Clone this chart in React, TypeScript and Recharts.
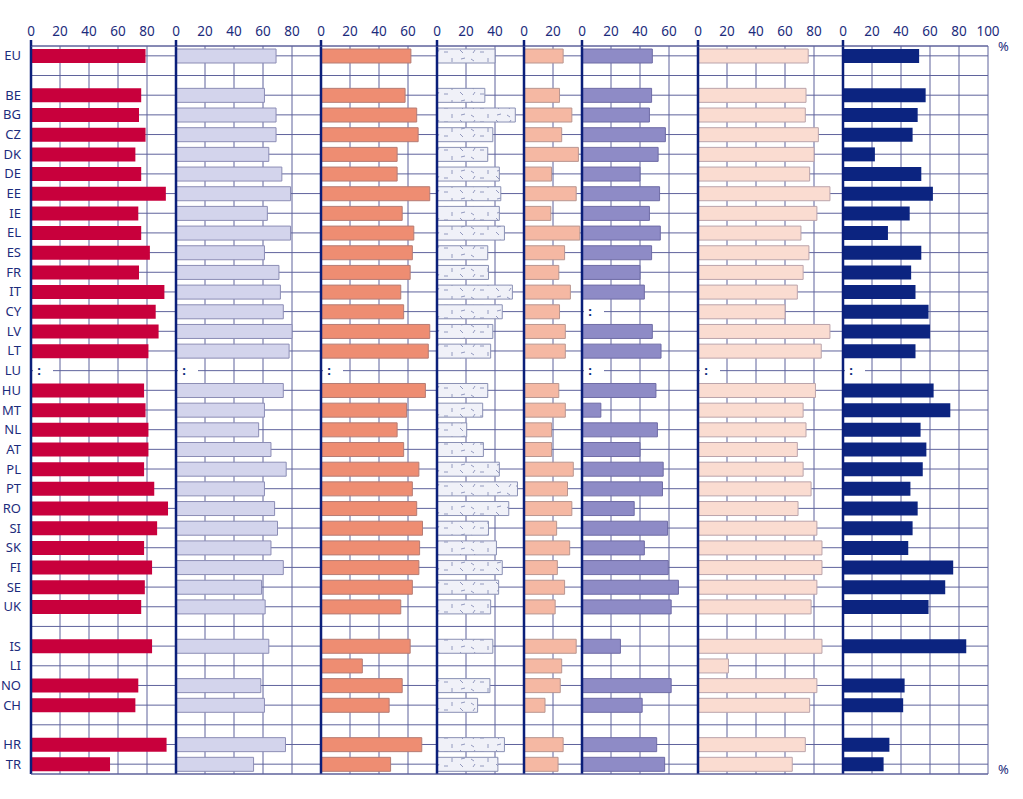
import React from 'react';
import { BarChart, Bar, XAxis, YAxis, CartesianGrid, ReferenceLine, LabelList } from 'recharts';

type V = number | ':' | null;

// Row labels (blank strings are spacer rows)
const countries: string[] = [
  'EU', ' ', 'BE', 'BG', 'CZ', 'DK', 'DE', 'EE', 'IE', 'EL', 'ES', 'FR', 'IT', 'CY', 'LV', 'LT', 'LU',
  'HU', 'MT', 'NL', 'AT', 'PL', 'PT', 'RO', 'SI', 'SK', 'FI', 'SE', 'UK', '  ', 'IS', 'LI', 'NO', 'CH',
  '   ', 'HR', 'TR',
];

// Eight indicator series (":" = not available, null = no bar)
const series1: V[] = [79, null, 76, 74.5, 79, 72, 76, 93, 74, 76, 82, 74.5, 92, 86, 88, 81, ':',
  78, 79, 81, 81, 78, 85, 94.5, 87, 78, 83.5, 78.5, 76, null, 83.5, null, 74, 72, null, 93.5, 54.5];
const series2: V[] = [69, null, 61, 69, 69, 64, 73, 79, 63, 79, 61, 71, 72, 74, 80, 78, ':',
  74, 61, 57, 65.5, 76, 61, 68, 70, 65.5, 74, 59, 61.5, null, 64, null, 58.5, 61, null, 75.5, 53.5];
const series3: V[] = [62, null, 58, 66, 67, 52.5, 52.5, 75, 56, 64, 63, 61.5, 55, 57, 75, 74, ':',
  72, 59, 52.5, 57, 67.5, 63, 66, 70, 68, 67.5, 63, 55, null, 61.5, 28.5, 56, 47, null, 69.5, 48];
const series4: V[] = [40, null, 33, 54, 38.5, 35, 43, 44, 43, 46.5, 35, 35.5, 52, 45, 38.5, 37, null,
  35, 31.5, 20.5, 32, 43, 55.5, 49.5, 35.5, 41, 45, 42.5, 37, null, 38.5, null, 36.5, 28, null, 46.5, 42];
const series5: V[] = [27, null, 24.5, 33, 26, 37.5, 19, 36, 18.5, 38.5, 28, 24, 32, 24.5, 28.5, 28.5, null,
  24, 28.5, 19, 19, 34, 30, 33, 22.5, 31.5, 23, 28, 21.5, null, 36, 26, 25, 14.5, null, 27, 23.5];
const series6: V[] = [48.5, null, 48, 46.5, 57.5, 52.5, 40, 53.5, 46.5, 54, 48, 40, 43, ':', 48.5, 54.5, ':',
  51, 13, 52, 40, 56, 55.5, 36, 59, 43, 59.5, 66.5, 61.5, null, 26.5, null, 61.5, 41.5, null, 51.5, 57];
const series7: V[] = [76, null, 74.5, 74, 83, 80, 77, 91, 82, 71, 76.5, 72.5, 68.5, 60, 91, 85, ':',
  81, 72.5, 74.5, 68.5, 72.5, 78, 69, 82, 85.5, 85.5, 82, 78, null, 85.5, 21, 82, 77, null, 74, 65];
const series8: V[] = [52.5, null, 57, 51.5, 48, 22, 54, 62, 46, 31, 54, 47, 50, 59, 60, 50, ':',
  62.5, 74, 53.5, 57.5, 55, 46.5, 51.5, 48, 45, 76, 70.5, 59, null, 85, null, 42.5, 41.5, null, 32, 28];

const allSeries: V[][] = [series1, series2, series3, series4, series5, series6, series7, series8];
// Axis range of each panel
const panelMax: number[] = [100, 100, 80, 60, 40, 80, 100, 100];

const panelStart: number[] = panelMax.reduce<number[]>((acc, m, i) => {
  acc.push(i === 0 ? 0 : acc[i - 1] + panelMax[i - 1]);
  return acc;
}, []);
const total = panelMax.reduce((a, b) => a + b, 0);
const xTicks: number[] = [];
for (let t = 0; t <= total; t += 20) xTicks.push(t);

const data = countries.map((name, i) => {
  const row: Record<string, any> = { name };
  allSeries.forEach((s, p) => {
    const v = s[i];
    const num = typeof v === 'number' ? v : 0;
    row[`v${p}`] = num;
    row[`s${p}`] = panelMax[p] - num;
    row[`m${p}`] = v === ':' ? ':' : 'x';
  });
  return row;
});

const NAVY = '#0B1F7A';
const GRID = '#5F639C';
const TEXT = '#1C2C7C';
const FONT = '"Noto Sans", sans-serif';

const panelStyle = [
  { fill: '#C8003C', stroke: 'none' },
  { fill: '#D3D4EC', stroke: '#8C8DB5' },
  { fill: '#EE8D72', stroke: '#B67C74' },
  { fill: 'url(#dashPattern)', stroke: '#8A90B4' },
  { fill: '#F5B8A3', stroke: '#B99690' },
  { fill: '#8E8BC6', stroke: '#6F6CA6' },
  { fill: '#FADCD1', stroke: '#BBA4AB' },
  { fill: '#0C2480', stroke: 'none' },
];

const localLabel = (t: number) => {
  let p = 0;
  for (let i = 0; i < panelStart.length; i++) if (panelStart[i] <= t) p = i;
  return String(t - panelStart[p]);
};

const TopTick = (props: any) => {
  const { x, payload } = props;
  const t = payload.value;
  const isStart = panelStart.includes(t);
  return (
    <g>
      {isStart && <line x1={x} x2={x} y1={40} y2={46} stroke={NAVY} strokeWidth={2.5} />}
      <text x={x} y={36} textAnchor="middle" fontSize={13.5} fill={TEXT} fontFamily={FONT}>
        {localLabel(t)}
      </text>
    </g>
  );
};

const BottomTick = (props: any) => {
  const { x, payload } = props;
  return (
    <text x={x} y={794} textAnchor="middle" fontSize={13.5} fill={TEXT} fontFamily={FONT}>
      {localLabel(payload.value)}
    </text>
  );
};

const YTick = (props: any) => {
  const { y, payload } = props;
  return (
    <text x={21} y={y + 4.5} textAnchor="end" fontSize={13} fill={TEXT} fontFamily={FONT}>
      {String(payload.value).trim()}
    </text>
  );
};

const MissingLabel = (props: any) => {
  const vb = props.viewBox || props;
  const { x, y, height } = vb;
  if (props.value !== ':') return null;
  const cy = y + height / 2;
  return (
    <g>
      <rect x={x + 2} y={cy - 3} width={20} height={6} fill="#ffffff" />
      <text x={x + 8} y={cy + 4} textAnchor="middle" fontSize={13} fontWeight="bold" fill={NAVY} fontFamily={FONT}>
        :
      </text>
    </g>
  );
};

const bars: React.ReactNode[] = [];
panelMax.forEach((_, p) => {
  bars.push(
    <Bar
      key={`v${p}`}
      dataKey={`v${p}`}
      stackId="a"
      xAxisId="top"
      fill={panelStyle[p].fill}
      stroke={panelStyle[p].stroke}
      strokeWidth={1}
      isAnimationActive={false}
    />
  );
  bars.push(
    <Bar
      key={`s${p}`}
      dataKey={`s${p}`}
      stackId="a"
      xAxisId="top"
      fill="transparent"
      stroke="none"
      isAnimationActive={false}
    >
      <LabelList dataKey={`m${p}`} content={MissingLabel} />
    </Bar>
  );
});

export default function App() {
  return (
    <div style={{ position: 'absolute', left: 0, top: 0, width: 1023, height: 799, background: '#fff' }}>
      <BarChart
        width={1023}
        height={799}
        data={data}
        layout="vertical"
        barSize={14}
        margin={{ top: 0, right: 35, bottom: 0, left: 0 }}
      >
        <defs>
          <pattern id="dashPattern" width="36" height="14" patternUnits="userSpaceOnUse">
            <rect x="0" y="0" width="36" height="14" fill="#F0F1F8" />
            <line x1="3" y1="3" x2="6" y2="5" stroke="#7A81AE" strokeWidth="0.8" />
            <line x1="12" y1="10" x2="16" y2="10" stroke="#7A81AE" strokeWidth="0.8" />
            <line x1="20" y1="2" x2="20" y2="6" stroke="#7A81AE" strokeWidth="0.8" />
            <line x1="28" y1="8" x2="31" y2="11" stroke="#7A81AE" strokeWidth="0.8" />
            <line x1="5" y1="11" x2="7" y2="8" stroke="#7A81AE" strokeWidth="0.8" />
            <line x1="29" y1="3" x2="33" y2="2" stroke="#7A81AE" strokeWidth="0.8" />
          </pattern>
        </defs>
        <CartesianGrid stroke={GRID} strokeWidth={1} xAxisId="top" />
        <XAxis
          xAxisId="top"
          orientation="top"
          type="number"
          domain={[0, total]}
          ticks={xTicks}
          interval={0}
          height={46}
          tickLine={false}
          axisLine={{ stroke: GRID }}
          tick={TopTick}
        />
        <XAxis
          xAxisId="bottom"
          orientation="bottom"
          type="number"
          domain={[0, total]}
          ticks={xTicks}
          interval={0}
          height={25}
          tickLine={false}
          axisLine={{ stroke: GRID }}
          tick={BottomTick}
        />
        <YAxis
          type="category"
          dataKey="name"
          width={31}
          interval={0}
          tickLine={false}
          axisLine={false}
          tick={YTick}
        />
        {bars}
        {panelStart.map((s) => (
          <ReferenceLine key={`r${s}`} x={s} xAxisId="top" stroke={NAVY} strokeWidth={2.5} />
        ))}
      </BarChart>
      <div style={{ position: 'absolute', left: 998, top: 37, fontSize: 13, color: TEXT, fontFamily: FONT }}>%</div>
      <div style={{ position: 'absolute', left: 998, top: 760, fontSize: 13, color: TEXT, fontFamily: FONT }}>%</div>
    </div>
  );
}
